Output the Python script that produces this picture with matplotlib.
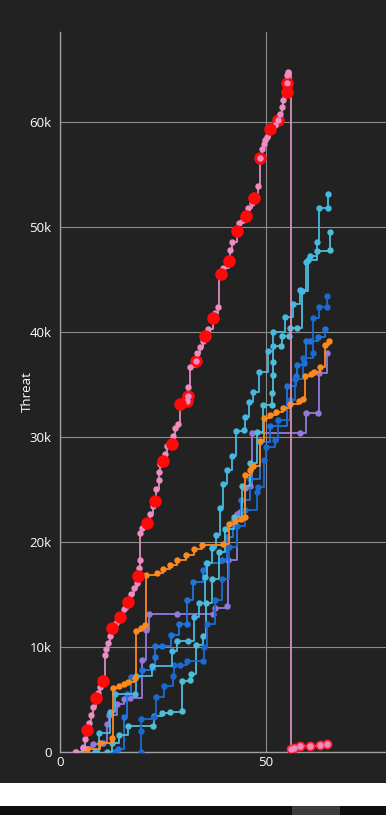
import matplotlib
matplotlib.use('Agg')
import matplotlib.pyplot as plt
from matplotlib.patches import Rectangle

plt.rcParams['font.family'] = ['Open Sans', 'DejaVu Sans']

# ---------------- data (threat in thousands) ----------------
pink_x = [3.9, 5.5, 6.0, 6.5, 7.0, 7.5, 8.1, 8.7, 9.2, 9.7, 10.5, 10.8, 11.2, 11.6, 12.1, 12.5,
          13.6, 14.6, 15.5, 16.6, 17.3, 18.0, 18.8, 19.0, 19.2, 19.3, 19.4, 20.0, 21.0, 21.9,
          22.5, 23.1, 23.3, 24.0, 24.0, 24.3, 25.1, 25.5, 25.9, 27.1, 27.3, 27.9, 28.7, 29.0,
          30.7, 31.0, 31.1, 31.6, 33.0, 33.2, 34.0, 34.6, 35.2, 36.0, 37.1, 37.6, 38.4, 38.7,
          39.0, 39.6, 40.9, 41.1, 41.3, 41.7, 43.0, 43.5, 44.3, 45.1, 45.7, 46.5, 47.1, 48.1,
          48.5, 49.0, 49.4, 49.8, 50.2, 51.0, 52.2, 53.0, 53.4, 53.8, 54.2, 54.6, 55.0, 55.0,
          55.2, 55.4, 56.1, 56.8, 58.3, 60.7, 63.1, 64.9]
pink_y = [0.0, 0.4, 1.2, 2.1, 2.8, 3.5, 4.3, 5.1, 5.6, 6.2, 6.8, 9.2, 9.8, 10.4, 11.0, 11.8,
          12.3, 12.9, 13.6, 14.3, 15.0, 15.6, 16.1, 16.8, 17.5, 18.3, 20.9, 21.3, 21.8, 22.7,
          23.4, 23.9, 25.0, 25.9, 26.7, 27.4, 27.7, 28.4, 29.1, 29.3, 30.1, 30.9, 31.2, 33.1,
          33.4, 33.9, 34.8, 36.7, 37.2, 38.0, 38.6, 39.1, 39.6, 40.3, 41.3, 41.8, 42.4, 45.3,
          45.5, 46.1, 46.7, 46.8, 47.8, 48.6, 49.6, 50.4, 50.7, 51.0, 51.8, 52.3, 52.8, 53.9,
          56.6, 57.4, 57.9, 58.3, 58.6, 59.3, 59.7, 60.2, 60.8, 61.4, 62.1, 62.6, 62.9, 63.7,
          64.5, 64.8, 0.25, 0.4, 0.6, 0.6, 0.65, 0.8]

# large red markers drawn over the pink curve (solid) and with the pink dot showing (ringed)
red_solid_x = [6.5, 8.7, 10.5, 12.5, 14.6, 16.6, 19.0, 21.0, 23.1, 25.1, 27.1, 29.0,
               35.2, 37.1, 39.0, 41.1, 43.0, 45.1, 47.1, 51.0, 55.0]
red_solid_y = [2.1, 5.1, 6.8, 11.8, 12.9, 14.3, 16.8, 21.8, 23.9, 27.7, 29.3, 33.1,
               39.6, 41.3, 45.5, 46.8, 49.6, 51.0, 52.8, 59.3, 62.9]
red_ring_x = [30.7, 31.0, 33.0, 48.5, 53.0, 55.0]
red_ring_y = [33.4, 33.9, 37.2, 56.6, 60.2, 63.7]

late_x = [56.1, 56.8, 58.3, 60.7, 63.1, 64.9]
late_y = [0.25, 0.4, 0.6, 0.6, 0.65, 0.8]

orange_x = [6.5, 9.7, 12.5, 12.9, 14.2, 15.5, 16.6, 18.2, 18.4, 19.6, 20.6, 20.9, 23.6, 25.0,
            26.8, 28.5, 30.5, 32.5, 34.4, 39.6, 41.0, 42.5, 43.8, 44.9, 44.9, 46.2, 46.9, 48.5,
            49.5, 51.0, 52.5, 54.0, 55.8, 58.0, 59.0, 59.5, 61.0, 61.6, 63.1, 64.3, 65.3]
orange_y = [0.3, 0.9, 1.3, 6.1, 6.3, 6.5, 6.7, 7.0, 11.5, 11.8, 12.1, 16.9, 17.0, 17.4,
            17.8, 18.3, 18.8, 19.3, 19.7, 19.8, 21.7, 22.0, 22.2, 22.4, 26.4, 26.9, 27.2, 29.6,
            31.8, 32.1, 32.4, 32.8, 33.1, 33.4, 33.6, 35.8, 36.0, 36.2, 36.7, 38.8, 39.1]

purple_x = [3.6, 5.6, 8.1, 10.4, 11.3, 12.0, 13.8, 15.5, 17.0, 19.8, 20.9, 21.7, 28.3, 37.2,
            37.6, 40.5, 40.8, 42.9, 43.7, 44.9, 46.1, 46.5, 58.3, 59.7, 62.7, 62.9, 64.7]
purple_y = [0.0, 0.5, 0.8, 0.9, 2.7, 3.5, 4.6, 5.0, 5.1, 8.8, 11.6, 13.1, 13.1, 13.1,
            13.7, 13.9, 18.3, 22.7, 22.9, 25.1, 25.3, 30.4, 30.4, 32.3, 32.3, 36.1, 38.0]

cyan_a_x = [8.5, 9.5, 12.1, 13.3, 18.2, 18.4, 22.4, 27.1, 28.5, 31.1, 32.6, 33.8, 35.2, 35.6,
            36.8, 37.9, 38.8, 39.6, 40.5, 41.7, 42.7, 44.7, 44.9, 45.9, 46.8, 48.3, 50.5, 51.6,
            54.6, 56.5, 58.3, 59.7, 60.7, 62.4, 62.9, 65.0, 65.0]
cyan_a_y = [0.0, 1.8, 3.8, 5.5, 5.5, 7.2, 8.2, 9.6, 10.6, 10.6, 12.9, 14.2, 16.7, 18.0,
            19.4, 20.7, 23.2, 25.5, 26.9, 28.2, 30.6, 30.7, 31.9, 33.3, 34.3, 36.2, 38.2, 40.0,
            41.4, 42.7, 44.0, 46.7, 47.2, 48.6, 51.8, 51.8, 53.1]

cyan_b_x = [11.5, 12.5, 14.2, 16.4, 22.6, 22.8, 24.7, 26.7, 29.5, 29.5, 31.6, 31.7, 33.0, 34.6,
            35.5, 37.0, 38.5, 40.0, 42.2, 44.1, 46.0, 47.8, 49.2, 51.4, 51.4, 51.6, 51.7, 51.7,
            53.6, 53.8, 55.6, 55.8, 57.5, 58.6, 60.2, 62.4, 65.5, 65.5]
cyan_b_y = [0.0, 0.9, 1.6, 2.5, 2.5, 3.4, 3.7, 3.8, 3.9, 6.8, 6.9, 7.4, 10.2, 11.0,
            14.2, 16.5, 19.0, 21.2, 22.4, 25.3, 27.5, 30.5, 33.0, 33.0, 34.2, 35.9, 37.1, 38.7,
            38.7, 39.6, 39.6, 40.4, 40.4, 43.9, 46.9, 47.7, 47.8, 49.5]

blue_a_x = [19.6, 19.6, 19.6, 22.7, 23.3, 25.2, 27.3, 27.7, 29.1, 30.7, 34.6, 35.0, 35.7,
            37.5, 39.2, 41.0, 43.0, 45.0, 47.7, 48.1, 49.5, 50.0, 52.2, 53.0, 55.7, 57.0, 59.0,
            61.3, 61.5, 62.9, 64.7, 64.7]
blue_a_y = [0.0, 2.0, 3.1, 3.3, 5.2, 6.3, 7.2, 8.3, 8.3, 8.7, 8.7, 10.0, 12.2,
            14.5, 16.5, 19.5, 21.5, 23.0, 24.8, 25.2, 27.8, 29.0, 29.7, 31.6, 33.5, 35.5, 37.5,
            38.0, 41.3, 42.4, 42.4, 43.4]

blue_b_x = [13.0, 14.0, 15.5, 16.2, 17.2, 19.8, 23.1, 23.1, 24.7, 26.9, 28.9, 30.7, 30.8,
            32.2, 34.6, 35.4, 39.2, 40.5, 42.0, 44.0, 46.0, 48.5, 51.0, 55.0, 57.3, 57.4, 59.1,
            59.7, 60.7, 62.5, 64.3]
blue_b_y = [0.0, 0.3, 3.3, 5.5, 7.1, 7.8, 9.0, 10.1, 10.1, 11.1, 12.2, 12.2, 14.5,
            16.2, 17.3, 18.0, 18.3, 20.5, 22.0, 24.0, 26.0, 29.5, 31.0, 34.9, 35.8, 36.9, 37.0,
            39.1, 39.1, 39.5, 40.3]

y_ticks = [0, 10, 20, 30, 40, 50, 60]
y_tick_labels = ['0', '10k', '20k', '30k', '40k', '50k', '60k']
x_ticks = [0, 50]
x_tick_labels = ['0', '50']

# ---------------- figure ----------------
BG = '#222222'
fig = plt.figure(figsize=(3.86, 8.15), dpi=100, facecolor=BG)
ax = fig.add_axes([60 / 386, 63 / 815, 1 - 60 / 386, 720 / 815])
ax.set_facecolor(BG)
ax.set_xlim(0, 79.1)
ax.set_ylim(0, 68.57)

ax.set_xticks(x_ticks)
ax.set_xticklabels(x_tick_labels)
ax.set_yticks(y_ticks)
ax.set_yticklabels(y_tick_labels)
ax.tick_params(length=0, colors='white', labelsize=9.5)
ax.tick_params(axis='y', pad=6)
ax.tick_params(axis='x', pad=3)
ax.grid(True, color='#8c8c8c', lw=0.8)
ax.set_axisbelow(True)
for s in ['top', 'right']:
    ax.spines[s].set_visible(False)
for s in ['left', 'bottom']:
    ax.spines[s].set_color('#a0a0a0')
    ax.spines[s].set_linewidth(1.0)

lw = 1.3
ms = 3.6
step_series = [
    (purple_x, purple_y, '#9378de'),
    (blue_b_x, blue_b_y, '#1f74dc'),
    (cyan_b_x, cyan_b_y, '#4fbfd6'),
    (blue_a_x, blue_a_y, '#1a6bd0'),
    (cyan_a_x, cyan_a_y, '#46b8e2'),
    (orange_x, orange_y, '#ff8a1c'),
]
for xs, ys, c in step_series:
    ax.plot(xs, ys, drawstyle='steps-post', color=c, lw=lw, marker='o', ms=ms,
            mec=c, mfc=c, zorder=3)

pink_line = '#d98db8'
pink_mk = '#ee8cc4'
red = '#ff0a0a'
ax.plot(pink_x, pink_y, drawstyle='steps-post', color=pink_line, lw=lw, zorder=4)
ax.plot(red_ring_x, red_ring_y, ls='none', marker='o', ms=8, mfc=red, mec=red, zorder=5)
ax.plot(late_x, late_y, ls='none', marker='o', ms=6, mfc='#ff2030', mec='#ff2030', zorder=5)
ax.plot(pink_x, pink_y, ls='none', marker='o', ms=3.6, mfc=pink_mk, mec=pink_mk, zorder=6)
ax.plot(red_solid_x, red_solid_y, ls='none', marker='o', ms=8, mfc=red, mec=red, zorder=7)

fig.text(27 / 386, 1 - 392 / 815, 'Threat', color='white', rotation=90,
         ha='center', va='center', fontsize=9.5)

# bottom strips
fig.patches.append(Rectangle((0, 9 / 815), 1, 23 / 815, transform=fig.transFigure,
                             facecolor='white', edgecolor='none', zorder=0))
fig.patches.append(Rectangle((0, 0), 1, 9 / 815, transform=fig.transFigure,
                             facecolor='#0e0e0e', edgecolor='none', zorder=0))
fig.patches.append(Rectangle((292 / 386, 0), 48 / 386, 9 / 815, transform=fig.transFigure,
                             facecolor='#3c3c3c', edgecolor='none', zorder=1))

fig.savefig('out.png', dpi=100, facecolor=BG)
